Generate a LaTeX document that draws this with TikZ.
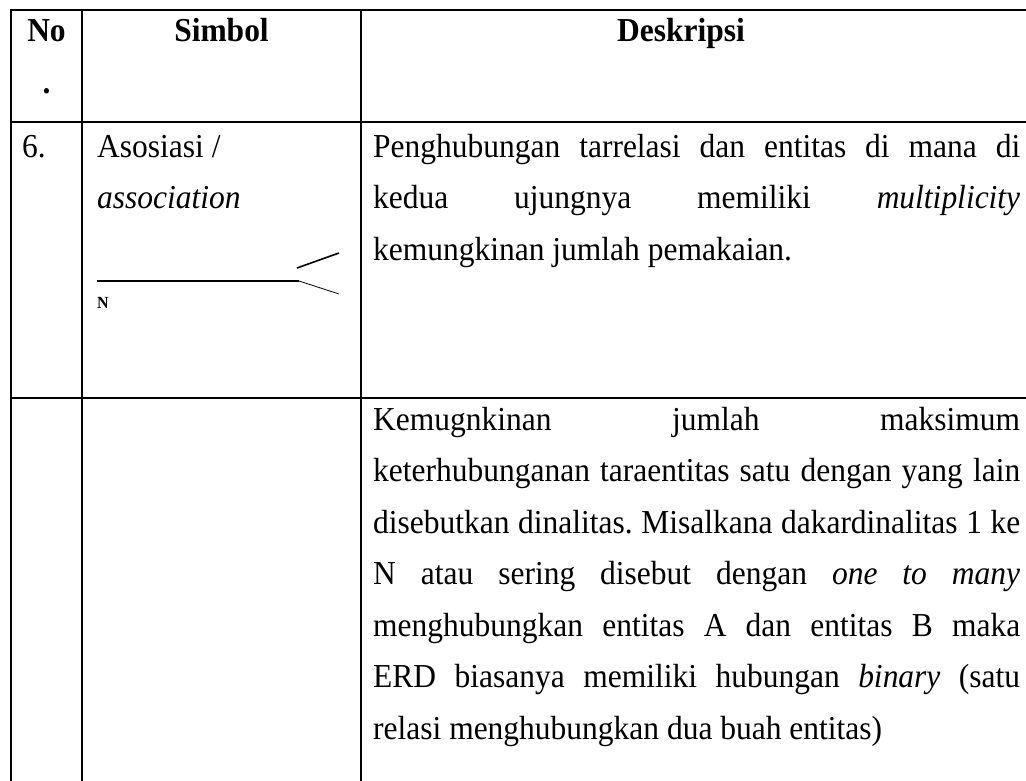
\documentclass[tikz,border=0pt]{standalone}
\usepackage{fontspec}
\setmainfont{Liberation Serif}[FakeStretch=0.94]
\begin{document}
\begin{tikzpicture}[x=1pt,y=-1pt,
  tbl/.style={line width=1.6pt, line cap=rect},
  txt/.style={anchor=base west, inner sep=0pt, font=\fontsize{33.5}{40}\selectfont},
  hdr/.style={anchor=base, inner sep=0pt, font=\fontsize{33.5}{40}\selectfont\bfseries}]
\useasboundingbox (0,0) rectangle (1026,780);
\fill[white] (0,0) rectangle (1026,780);
% table rules
\coordinate (tl) at (11,10);   \coordinate (tr) at (1026,10);
\coordinate (hl) at (11,122);  \coordinate (hr) at (1026,122);
\coordinate (rl) at (11,398);  \coordinate (rr) at (1026,398);
\coordinate (b0) at (11,782);  \coordinate (c1t) at (82,10);
\coordinate (c1b) at (82,782); \coordinate (c2t) at (361,10);
\coordinate (c2b) at (361,782);
\draw[tbl] (tl) -- (tr);
\draw[tbl] (hl) -- (hr);
\draw[tbl] (rl) -- (rr);
\draw[tbl] (tl) -- (b0);
\draw[tbl] (c1t) -- (c1b);
\draw[tbl] (c2t) -- (c2b);
% header
\node[hdr] (hno) at (46.5,41) {No};
\node[hdr] (hdot) at (46.5,93) {.};
\node[hdr] (hsim) at (221.5,41) {Simbol};
\node[hdr] (hdes) at (681,41) {Deskripsi};
% row 6
\node[txt] (n6) at (22,157) {6.};
\node[txt] (s1) at (97,157) {Asosiasi /};
\node[txt] (s2) at (97,208.5) {\itshape association};
\coordinate (la) at (97,281);
\coordinate (lb) at (299,281);
\coordinate (ua) at (297,268);
\coordinate (ub) at (339,253);
\coordinate (da) at (339,294);
\draw[line width=1.5pt] (la) -- (lb);
\draw[line width=1.6pt] (ua) -- (ub);
\draw[line width=0.8pt] (lb) -- (da);
\node[anchor=base west, inner sep=0pt, font=\fontsize{17}{20}\selectfont\bfseries] (nN) at (97,308) {N};
\node[txt] (d1) at (373,157) {\makebox[647pt][s]{Penghubungan tarrelasi dan entitas di mana di}};
\node[txt] (d2) at (373,208.5) {\makebox[647pt][s]{kedua ujungnya memiliki \textit{multiplicity}}};
\node[txt] (d3) at (373,260) {kemungkinan jumlah pemakaian.};
% row 7
\node[txt] (e1) at (373,430) {\makebox[647pt][s]{Kemugnkinan jumlah maksimum}};
\node[txt] (e2) at (373,481.5) {\makebox[647pt][s]{keterhubunganan taraentitas satu dengan yang lain}};
\node[txt] (e3) at (373,533) {\makebox[647pt][s]{disebutkan dinalitas.\ Misalkana dakardinalitas 1 ke}};
\node[txt] (e4) at (373,584.5) {\makebox[647pt][s]{N atau sering disebut dengan \textit{one to many}}};
\node[txt] (e5) at (373,636) {\makebox[647pt][s]{menghubungkan entitas A dan entitas B maka}};
\node[txt] (e6) at (373,687.5) {\makebox[647pt][s]{ERD biasanya memiliki hubungan \textit{binary} (satu}};
\node[txt] (e7) at (373,739) {relasi menghubungkan dua buah entitas)};
\end{tikzpicture}
\end{document}
